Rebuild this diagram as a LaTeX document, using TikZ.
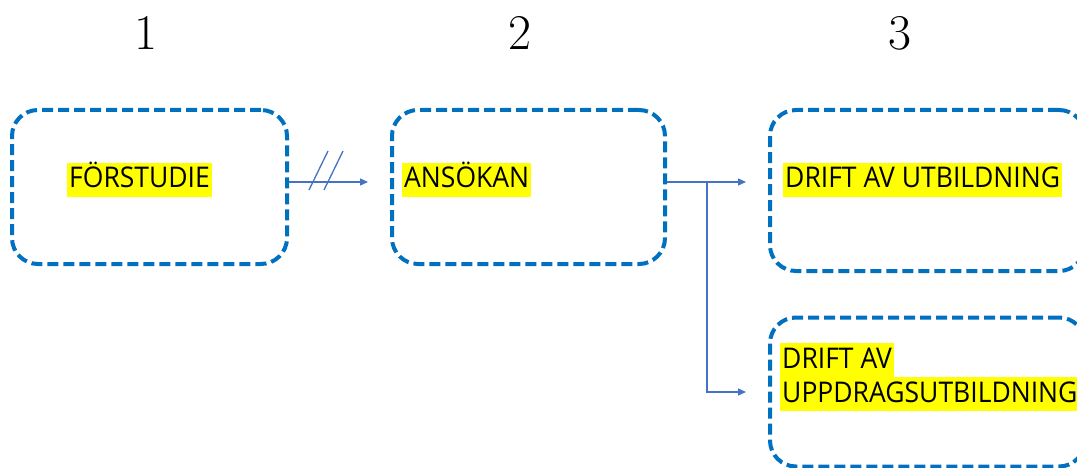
\documentclass[tikz,border=0pt]{standalone}
\usepackage{fontspec}
\newfontfamily\boxfont[FakeStretch=0.93]{Open Sans}
\usetikzlibrary{arrows.meta,calc}
\definecolor{boxblue}{HTML}{0070C0}
\definecolor{linkblue}{HTML}{4472C4}
\definecolor{hl}{HTML}{FFFF00}
\tikzset{
  stagebox/.style={draw=boxblue, line width=4pt, dash pattern=on 11pt off 5pt,
    rounded corners=26pt, minimum width=#1, inner sep=0pt},
  hltext/.style={fill=hl, font=\boxfont\fontsize{28.5}{34}\selectfont,
    text height=24pt, text depth=8pt, inner xsep=2pt, inner ysep=1pt, anchor=base west},
  numlabel/.style={font=\fontsize{50}{56}\selectfont},
  conn/.style={draw=linkblue, line width=1.3pt, -{Triangle[length=8pt,width=7pt]}},
  slash/.style={draw=linkblue, line width=1.3pt}
}
\begin{document}
\begin{tikzpicture}[x=1pt,y=-1pt]
\clip (0,0) rectangle (1077,468);
\fill[white] (0,0) rectangle (1077,468);
% column numbers
\node[numlabel] (n1) at (146,33) {1};
\node[numlabel] (n2) at (520,33) {2};
\node[numlabel] (n3) at (900,33) {3};
% boxes
\node[stagebox=275pt, minimum height=154pt] (b1) at (149.5,187) {};
\node[stagebox=273pt, minimum height=154pt] (b2) at (528.5,187) {};
\node[stagebox=315pt, minimum height=161pt] (b3) at (927.5,190.5) {};
\node[stagebox=315pt, minimum height=149pt] (b4) at (927.5,392) {};
% texts
\node[hltext] (t1) at (67,188) {FÖRSTUDIE};
\node[hltext] (t2) at (402,188) {ANSÖKAN};
\node[hltext] (t3) at (783,188) {DRIFT AV UTBILDNING};
\node[hltext] (t4a) at (780,368) {DRIFT AV\ };
\node[hltext] (t4b) at (780,402) {UPPDRAGSUTBILDNING};
% connectors
\coordinate (r1) at (287,182);
\coordinate (j) at (707,182);
\draw[conn, shorten >=22pt] (b1.east |- r1) -- (b2.west |- r1);
\coordinate (m) at (326,170.5);
\draw[slash] ($(m)+(-17,19.5)$) -- ($(m)+(2,-19.5)$);
\draw[slash] ($(m)+(-2,19.5)$) -- ($(m)+(17,-19.5)$);
\draw[conn, shorten >=22pt] (b2.east |- j) -- (b3.west |- j);
\draw[conn, shorten >=22pt] (j) |- (b4.west);
\end{tikzpicture}
\end{document}
